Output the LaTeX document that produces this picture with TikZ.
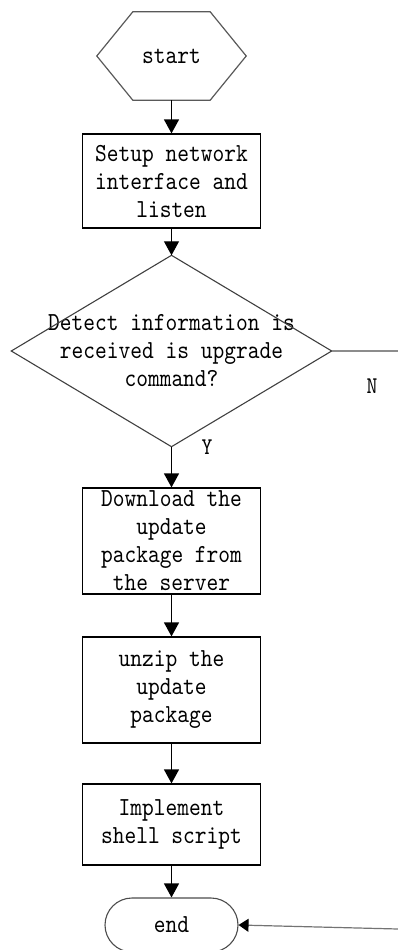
\documentclass[tikz,border=0pt]{standalone}
\usepackage{fontspec}
\newfontfamily\diagfont{lmmono10-regular.otf}[FakeStretch=0.86]
\usetikzlibrary{arrows.meta,shapes.misc,calc}
\begin{document}
\begin{tikzpicture}[x=1pt,y=-1pt,
  txt/.style={font=\diagfont\fontsize{26}{28}\selectfont, text=black, align=center, inner sep=0pt},
  procbox/.style={txt, draw=black, line width=1.2pt, minimum width=178pt},
  flow/.style={draw=black, line width=1.2pt, -{Triangle[length=14pt,width=15pt]}},
  lbl/.style={font=\diagfont\fontsize{24}{26}\selectfont, text=black, inner sep=0pt}
]
\useasboundingbox (0,0) rectangle (398,950);

% start hexagon
\node[txt, minimum width=149pt, minimum height=88pt] (start) at (171.5,56) {start};
\draw[black!65, line width=1.2pt] (start.west) -- ($(start.north west)+(36,0)$) -- ($(start.north east)+(-36,0)$) -- (start.east) -- ($(start.south east)+(-36,0)$) -- ($(start.south west)+(36,0)$) -- cycle;

\node[procbox, minimum height=94pt] (setup) at (171.5,181) {Setup network\\interface and\\listen};

% decision diamond
\node[txt, minimum width=320pt, minimum height=191pt] (dec) at (171.5,351) {Detect information is\\received is upgrade\\command?};
\draw[black!75, line width=1.1pt] (dec.north) -- (dec.east) -- (dec.south) -- (dec.west) -- cycle;

\node[procbox, minimum height=106pt] (down) at (171.5,541) {Download the\\update\\package from\\the server};
\node[procbox, minimum height=106pt] (unzip) at (171.5,690) {unzip the\\update\\package};
\node[procbox, minimum height=81pt] (impl) at (171.5,824.5) {Implement\\shell script};

\node[txt, draw=black!70, line width=1.1pt, rounded rectangle, minimum width=133pt, minimum height=54pt] (end) at (171.5,925) {end};

% flow arrows
\draw[flow] (start.south) -- (setup.north);
\draw[flow] (setup.south) -- (dec.north);
\draw[flow] (dec.south) -- (down.north);
\draw[flow] (down.south) -- (unzip.north);
\draw[flow] (unzip.south) -- (impl.north);
\draw[flow] (impl.south) -- (end.north);

% N branch
\coordinate (nout) at (398,351);
\draw[black!45, line width=1.2pt] (dec.east) -- (nout);
\node[lbl] (N) at (372,386) {N};
\node[lbl] (Y) at (207,447) {Y};

% return line
\coordinate (nin) at (398,929);
\draw[black!55, line width=1.2pt, -{Triangle[length=10pt,width=13pt,black]}] (nin) -- (end.east);
\end{tikzpicture}
\end{document}
